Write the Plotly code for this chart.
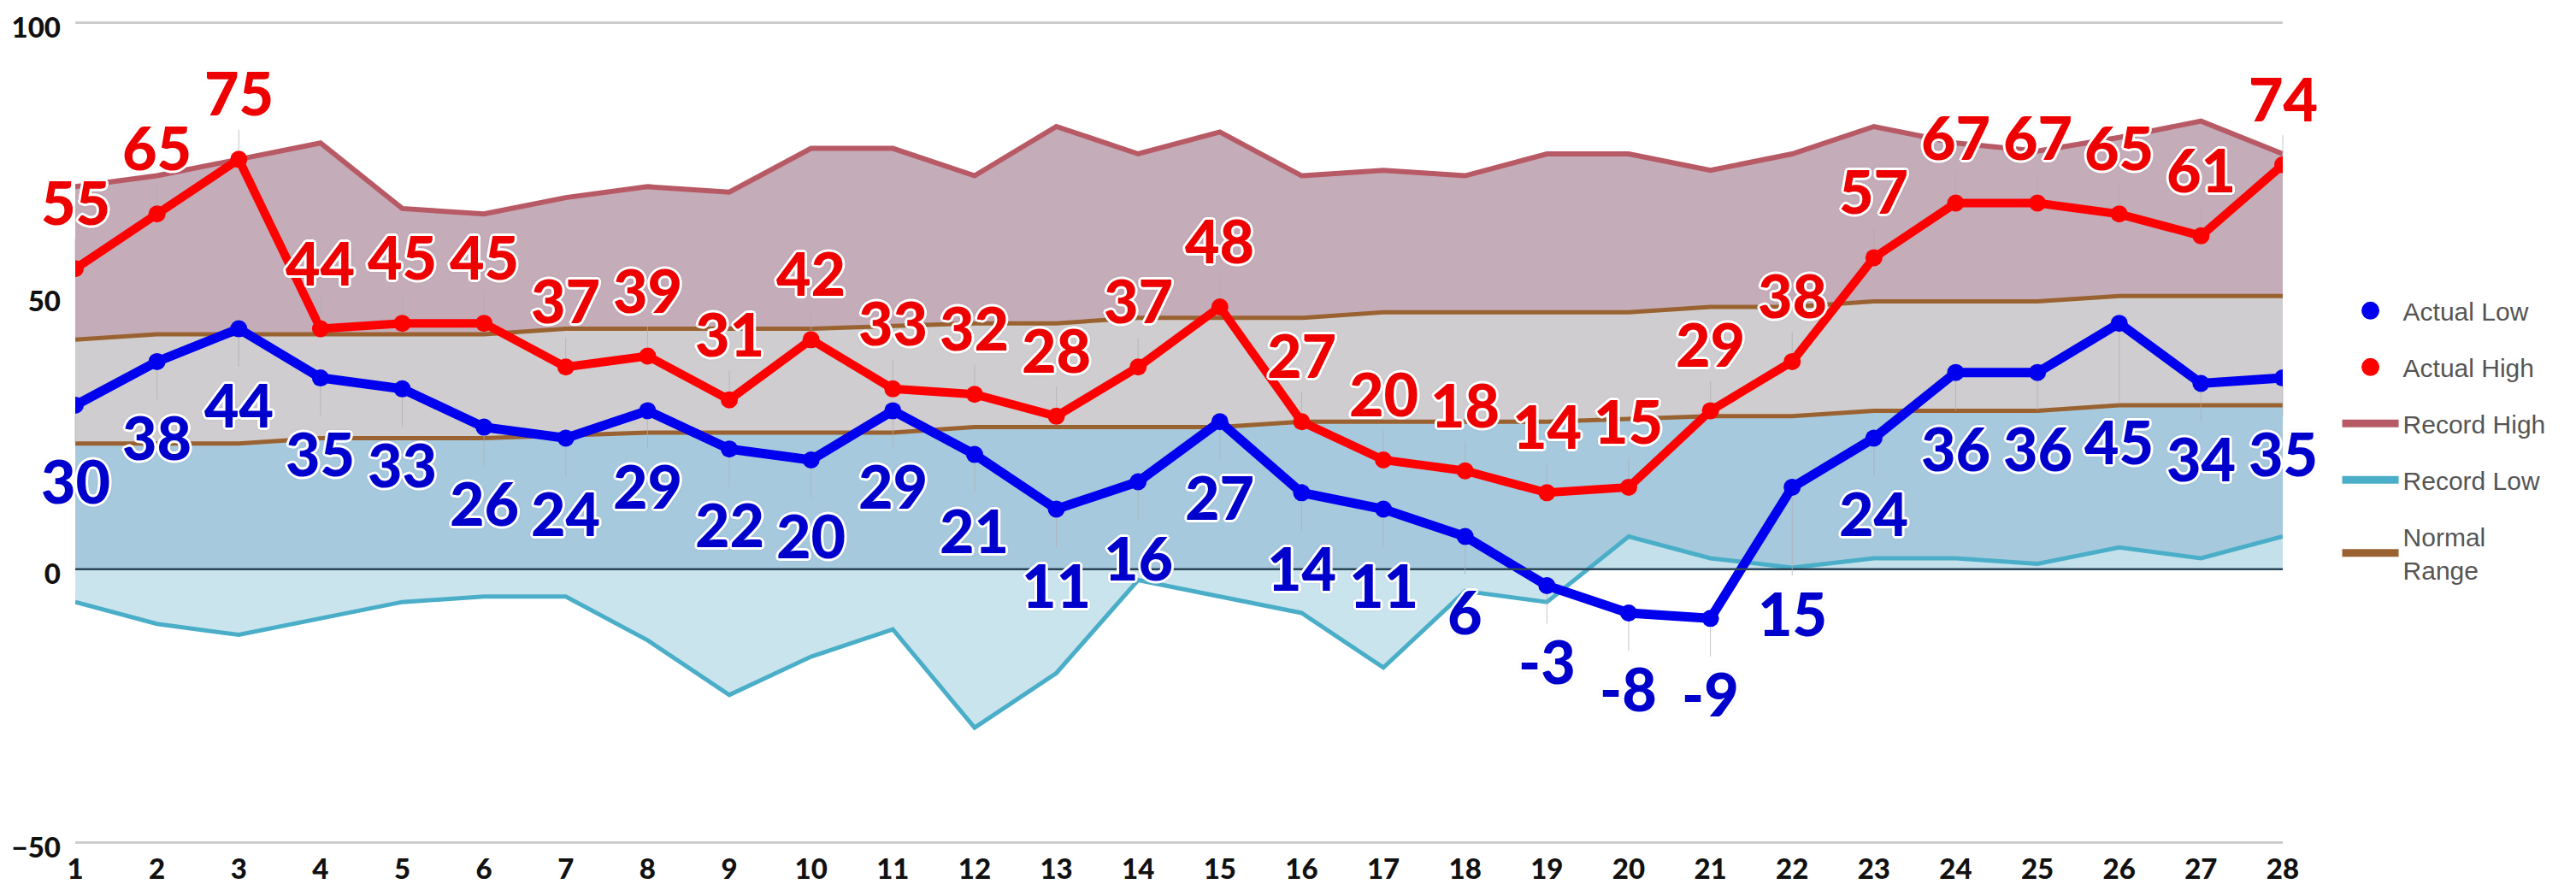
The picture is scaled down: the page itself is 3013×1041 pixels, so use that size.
import plotly.graph_objects as go

days = list(range(1, 29))
actual_high = [55, 65, 75, 44, 45, 45, 37, 39, 31, 42, 33, 32, 28, 37, 48, 27, 20, 18, 14, 15, 29, 38, 57, 67, 67, 65, 61, 74]
actual_low = [30, 38, 44, 35, 33, 26, 24, 29, 22, 20, 29, 21, 11, 16, 27, 14, 11, 6, -3, -8, -9, 15, 24, 36, 36, 45, 34, 35]
record_high = [70, 72, 75, 78, 66, 65, 68, 70, 69, 77, 77, 72, 81, 76, 80, 72, 73, 72, 76, 76, 73, 76, 81, 78, 76.5, 79, 82, 76]
record_low = [-6, -10, -12, -9, -6, -5, -5, -13, -23, -16, -11, -29, -19, -2, -5, -8, -18, -4, -6, 6, 2, 0.3, 2, 2, 1, 4, 2, 6]
normal_high = [42, 43, 43, 43, 43, 43, 44, 44, 44, 44, 44.5, 45, 45, 46, 46, 46, 47, 47, 47, 47, 48, 48, 49, 49, 49, 50, 50, 50]
normal_low = [23, 23, 23, 24, 24, 24, 24.5, 25, 25, 25, 25, 26, 26, 26, 26, 27, 27, 27, 27, 27.5, 28, 28, 29, 29, 29, 30, 30, 30]
y_ticks = [-50, 0, 50, 100]
legend_names = ["Actual Low", "Actual High", "Record High", "Record Low", "Normal<br>Range"]

# label offsets (style only)
low_label_offset = {22: 147, 26: 138}

RED = "#ff0000"
BLUE = "#0000ee"
MAUVE = "#c4acb8"
GRAY = "#cfcdcf"
BLUE_FILL = "#a7c9de"
CYAN_FILL = "rgba(198,226,236,0.92)"
RH_LINE = "#b85a66"
RL_LINE = "#4aaec8"
BROWN = "#9a6230"
ZERO_LINE = "#2a4557"

fig = go.Figure()
common = dict(mode="lines", showlegend=False, hoverinfo="skip")
fig.add_trace(go.Scatter(x=days, y=record_high, fill="tozeroy", fillcolor=MAUVE,
                         line=dict(color=RH_LINE, width=6), **common))
fig.add_trace(go.Scatter(x=days, y=normal_high, fill="tozeroy", fillcolor=GRAY,
                         line=dict(color=BROWN, width=5), **common))
fig.add_trace(go.Scatter(x=days, y=normal_low, fill="tozeroy", fillcolor=BLUE_FILL,
                         line=dict(color=BROWN, width=5), **common))
fig.add_trace(go.Scatter(x=days, y=record_low, fill="tozeroy", fillcolor=CYAN_FILL,
                         line=dict(color=RL_LINE, width=5), **common))

fig.add_trace(go.Scatter(x=days, y=actual_high, mode="lines+markers", showlegend=False,
                         line=dict(color=RED, width=10), marker=dict(size=20, color=RED)))
fig.add_trace(go.Scatter(x=days, y=actual_low, mode="lines+markers", showlegend=False,
                         line=dict(color=BLUE, width=11), marker=dict(size=20, color=BLUE)))

# legend-only traces
fig.add_trace(go.Scatter(x=[None], y=[None], mode="markers", name=legend_names[0], legendgroup="g1",
                         marker=dict(size=16, color=BLUE, line=dict(color=BLUE, width=5))))
fig.add_trace(go.Scatter(x=[None], y=[None], mode="markers", name=legend_names[1], legendgroup="g2",
                         marker=dict(size=16, color=RED, line=dict(color=RED, width=5))))
fig.add_trace(go.Scatter(x=[None], y=[None], mode="lines", name=legend_names[2], legendgroup="g3",
                         line=dict(color=RH_LINE, width=9)))
fig.add_trace(go.Scatter(x=[None], y=[None], mode="lines", name=legend_names[3], legendgroup="g4",
                         line=dict(color=RL_LINE, width=9)))
fig.add_trace(go.Scatter(x=[None], y=[None], mode="lines", name=legend_names[4], legendgroup="g5",
                         line=dict(color=BROWN, width=9)))

halo = ("#fff 3px 0 0, #fff -3px 0 0, #fff 0 3px 0, #fff 0 -3px 0, "
        "#fff 2px 2px 0, #fff -2px -2px 0, #fff 2px -2px 0, #fff -2px 2px 0, "
        "rgba(0,0,0,0.25) 0 0 5px")
label_font = dict(family="Lato, sans-serif", size=70, weight=900, shadow=halo)

for d, v in zip(days, actual_high):
    fig.add_annotation(x=d, y=v, text=str(v), showarrow=True, arrowhead=0, arrowwidth=1,
                       arrowcolor="rgba(175,175,175,0.7)", ax=0, ay=-78, standoff=10,
                       font=dict(color="#ee0000", **label_font))
for d, v in zip(days, actual_low):
    fig.add_annotation(x=d, y=v, text=str(v), showarrow=True, arrowhead=0, arrowwidth=1,
                       arrowcolor="rgba(175,175,175,0.7)", ax=0, ay=low_label_offset.get(d, 88),
                       standoff=10, font=dict(color="#0000cc", **label_font))

# zero reference line (axis styling)
fig.add_hline(y=0, line=dict(color=ZERO_LINE, width=2.5), layer="above")

tick_font = dict(family="Lato, sans-serif", size=33, weight=900, color="#111")
fig.update_layout(
    width=3013, height=1041,
    margin=dict(l=80, r=351, t=16, b=61, autoexpand=False),
    plot_bgcolor="white", paper_bgcolor="white",
    showlegend=True,
    legend=dict(x=1.025, y=0.675, xanchor="left", yanchor="top",
                font=dict(family="Liberation Sans, Arial, sans-serif", size=30, color="#555555"),
                traceorder="grouped", tracegroupgap=24, itemwidth=66,
                bgcolor="rgba(0,0,0,0)"),
    xaxis=dict(range=[1, 28], tickvals=days, showgrid=False, zeroline=False, showline=False,
               ticks="", tickfont=tick_font, ticklabelstandoff=6, automargin=False,
               ticklabeloverflow="allow"),
    yaxis=dict(range=[-50.4, 100.4], tickvals=y_ticks, showgrid=True,
               gridcolor="rgba(90,90,90,0.3)", gridwidth=3,
               zeroline=True, zerolinecolor=ZERO_LINE, zerolinewidth=3,
               showline=False, ticks="", layer="above traces", automargin=False,
               tickfont=tick_font, ticklabelstandoff=16, ticklabelshift=6,
               ticklabeloverflow="allow"),
)

fig.write_html("out.html")
